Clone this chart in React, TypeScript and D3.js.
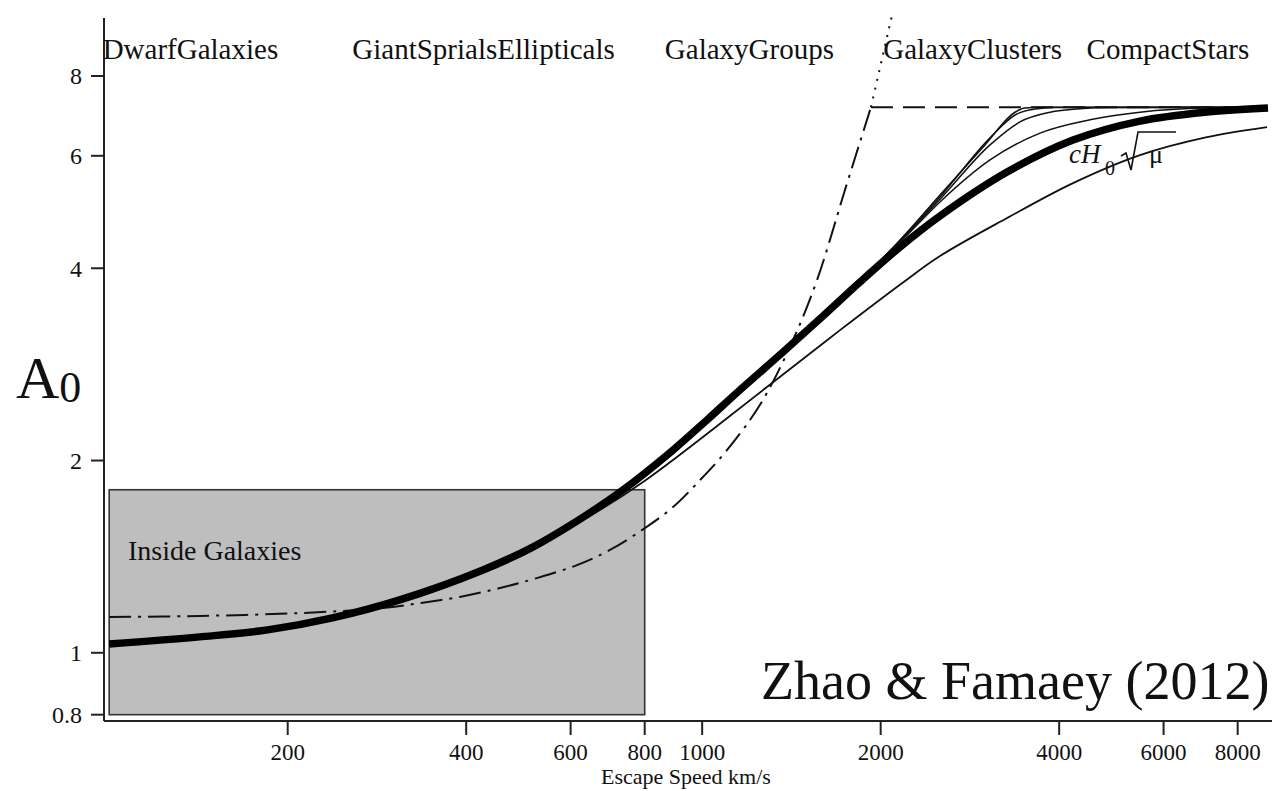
import * as d3 from "d3";

type Pt = [number, number];

// axis ticks
const speedTicks = [200, 400, 600, 800, 1000, 2000, 4000, 6000, 8000];
const a0Ticks = [0.8, 1, 2, 4, 6, 8];

// regime names along the top, anchored at an escape speed
const regimeLabels = ["DwarfGalaxies", "GiantSprialsEllipticals", "GalaxyGroups", "GalaxyClusters", "CompactStars"];
const regimeSpeeds = [97.5, 257, 865, 2020, 4450];

// shaded "inside galaxies" region: speed range x A0 range
const insideSpeed = [100, 800];
const insideA0 = [0.8, 1.8];

// thick main curve
const mainCurve: Pt[] = [
  [100, 1.032], [142, 1.059], [185, 1.086], [238, 1.134], [309, 1.21], [427, 1.348],
  [518, 1.464], [630, 1.631], [735, 1.798], [893, 2.077], [1019, 2.315], [1158, 2.579],
  [1369, 2.957], [1599, 3.367], [1846, 3.806], [2156, 4.318], [2518, 4.83], [3267, 5.658],
  [4221, 6.35], [5475, 6.8], [7102, 7.024], [9000, 7.125],
];

// cH0 sqrt(mu) curve
const hubbleCurve: Pt[] = [
  [100, 1.028], [185, 1.082], [309, 1.2], [427, 1.34], [630, 1.615], [795, 1.851],
  [1286, 2.607], [1708, 3.2], [2181, 3.8], [2518, 4.18], [3267, 4.794], [4221, 5.438],
  [5475, 6.016], [7102, 6.418], [8965, 6.654],
];

// family of thin curves that saturate faster
const lowBranch: Pt[] = [
  [100, 1.032], [185, 1.086], [309, 1.21], [518, 1.464], [735, 1.798], [1019, 2.315],
  [1369, 2.957], [1846, 3.82],
];
const fastCurve1: Pt[] = [...lowBranch, [2156, 4.43], [2518, 5.21], [2999, 6.24], [3370, 7.02], [3503, 7.125], [3713, 7.145], [9000, 7.15]];
const fastCurve2: Pt[] = [...lowBranch, [2156, 4.42], [2518, 5.17], [3058, 6.4], [3370, 6.95], [3642, 7.1], [3936, 7.14], [9000, 7.15]];
const fastCurve3: Pt[] = [...lowBranch, [2156, 4.41], [2518, 5.13], [3058, 6.24], [3436, 6.78], [3860, 7.02], [4337, 7.11], [4873, 7.14], [9000, 7.15]];
const fastCurve4: Pt[] = [...lowBranch, [2156, 4.39], [2518, 5.08], [3058, 5.91], [3713, 6.51], [4509, 6.83], [5475, 7.02], [7102, 7.125], [9000, 7.14]];

// dash-dot curve, dashed plateau and dotted continuation
const dashDotCurve: Pt[] = [
  [100, 1.138], [142, 1.142], [210, 1.154], [289, 1.175], [338, 1.198], [390, 1.223],
  [456, 1.263], [526, 1.309], [615, 1.372], [699, 1.449], [801, 1.568], [893, 1.691],
  [992, 1.864], [1084, 2.04], [1204, 2.315], [1286, 2.551], [1423, 3.088], [1562, 3.833],
  [1741, 5.303], [1926, 7.15],
];
const plateau: Pt[] = [[1926, 7.15], [9000, 7.15]];
const dottedRise: Pt[] = [[1926, 7.15], [2090, 9.96]];

const W = 1280;
const H = 791;
const INK = "#111";
const SERIF = "'Liberation Serif', 'Times New Roman', serif";

export default function App() {
  const x = d3.scaleLog().domain([98, 9000]).range([104, 1268]);
  const y = d3.scaleLog().domain([0.782, 9.86]).range([721, 18]);
  const x0 = 104;
  const yBase = 721;

  const smooth = d3
    .line<Pt>()
    .x((d) => x(d[0]))
    .y((d) => y(d[1]))
    .curve(d3.curveCatmullRom.alpha(0.5));
  const saturating = d3
    .line<Pt>()
    .x((d) => x(d[0]))
    .y((d) => y(d[1]))
    .curve(d3.curveMonotoneX);
  const straight = d3
    .line<Pt>()
    .x((d) => x(d[0]))
    .y((d) => y(d[1]));

  const fastCurves = [fastCurve1, fastCurve2, fastCurve3, fastCurve4];

  return (
    <svg
      width={W}
      height={H}
      style={{ position: "absolute", left: 0, top: 0, background: "#fff", display: "block" }}
      fontFamily={SERIF}
    >
      {/* shaded region */}
      <rect
        x={x(insideSpeed[0])}
        y={y(insideA0[1])}
        width={x(insideSpeed[1]) - x(insideSpeed[0])}
        height={y(insideA0[0]) - y(insideA0[1])}
        fill="#bebebe"
        stroke="#333"
        strokeWidth={1.6}
      />
      <text x={128} y={560} fontSize={28} fill={INK}>
        Inside Galaxies
      </text>

      {/* curves */}
      <path d={straight(dottedRise)!} fill="none" stroke={INK} strokeWidth={2} strokeDasharray="2,7" />
      <path d={straight(plateau)!} fill="none" stroke={INK} strokeWidth={2} strokeDasharray="22,10" />
      <path d={smooth(dashDotCurve)!} fill="none" stroke={INK} strokeWidth={2} strokeDasharray="22,7,3,7" />
      {fastCurves.map((c, i) => (
        <path key={i} d={saturating(c)!} fill="none" stroke={INK} strokeWidth={1.5} />
      ))}
      <path d={smooth(hubbleCurve)!} fill="none" stroke={INK} strokeWidth={1.8} />
      <path d={smooth(mainCurve)!} fill="none" stroke="#000" strokeWidth={7.5} />

      {/* cH0 sqrt(mu) label */}
      <g fill={INK}>
        <text x={1069} y={163} fontSize={27} fontStyle="italic">cH</text>
        <text x={1105} y={175} fontSize={20}>0</text>
        <path d="M1121,156 L1126,153 L1131,170 L1138,132 L1176,132" fill="none" stroke={INK} strokeWidth={1.6} />
        <text x={1149} y={163} fontSize={26}>μ</text>
      </g>

      {/* y axis */}
      <line x1={x0} x2={x0} y1={18} y2={yBase} stroke="#222" strokeWidth={2} />
      {a0Ticks.map((t) => (
        <g key={t}>
          <line x1={x0 - 13} x2={x0} y1={y(t)} y2={y(t)} stroke="#222" strokeWidth={2} />
          <text x={x0 - 22} y={y(t)} dy="0.35em" textAnchor="end" fontSize={24} fill={INK}>
            {t}
          </text>
        </g>
      ))}

      {/* x axis */}
      <line x1={x0} x2={1272} y1={yBase} y2={yBase} stroke="#222" strokeWidth={2} />
      {speedTicks.map((t) => (
        <g key={t}>
          <line x1={x(t)} x2={x(t)} y1={yBase} y2={yBase + 14} stroke="#222" strokeWidth={2} />
          <text x={x(t)} y={760} textAnchor="middle" fontSize={23} fill={INK}>
            {t}
          </text>
        </g>
      ))}
      <text x={686} y={784} textAnchor="middle" fontSize={22} fill={INK}>
        Escape Speed km/s
      </text>

      {/* regime labels */}
      {regimeLabels.map((name, i) => (
        <text key={name} x={x(regimeSpeeds[i])} y={59} fontSize={29} fill={INK}>
          {name}
        </text>
      ))}

      {/* A0 axis label */}
      <text x={16} y={398} fontSize={60} fill={INK}>
        A
        <tspan fontSize={44} dy={4}>0</tspan>
      </text>

      {/* citation */}
      <text x={761} y={699} fontSize={54} fill={INK}>
        Zhao &amp; Famaey (2012)
      </text>
    </svg>
  );
}
